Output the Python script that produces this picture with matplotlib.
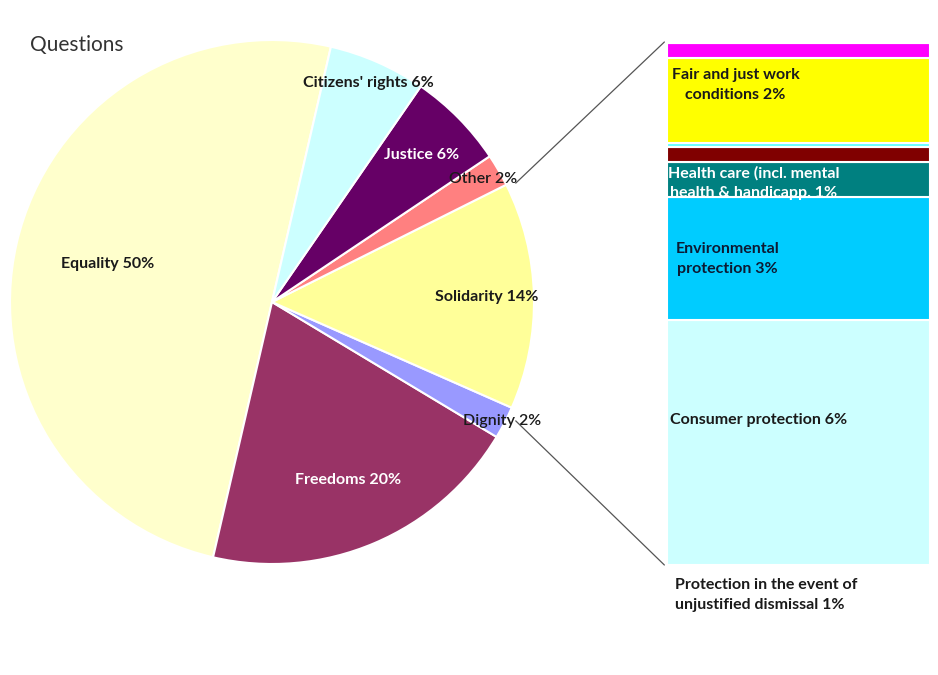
import numpy as np
import matplotlib
matplotlib.use("Agg")
import matplotlib.pyplot as plt
from matplotlib.patches import ConnectionPatch

plt.rcParams['font.family'] = ['Lato', 'DejaVu Sans']

# pie data (percent)
pie_names = ["Equality", "Freedoms", "Dignity", "Solidarity", "Other", "Justice", "Citizens' rights"]
pie_values = [50, 20, 2, 14, 2, 6, 6]
pie_colors = ["#FFFFCC", "#993366", "#9999FF", "#FFFF99", "#FF8080", "#660066", "#CCFFFF"]
pie_text_colors = ["#1a1a1a", "white", "#1a1a1a", "#1a1a1a", "#1a1a1a", "white", "#1a1a1a"]
pie_weights = ["bold", "bold", "semibold", "bold", "semibold", "bold", "bold"]
label_r = [0.645, 0.74, 0.99, 0.82, 0.93, 0.80, 0.915]   # radius of each label

# breakdown of "Other" (bottom to top)
bar_names = ["Consumer protection 6%", "Environmental\nprotection 3%",
             "Health care (incl. mental\nhealth & handicapp. 1%", "", "",
             "Fair and just work\nconditions 2%", "", ""]
bar_values = [6.0, 3.0, 0.87, 0.37, 0.08, 2.1, 0.35, 0.03]
bar_colors = ["#CCFFFF", "#00CCFF", "#008080", "#800000", "#66FFFF", "#FFFF00", "#FF00FF", "#CCCCFF"]
bar_text_colors = ["#1a1a1a", "#0d1a33", "white", "black", "black", "#1a1a1a", "black", "black"]
bar_lab_x = [0.35, 0.23, 0.33, 0, 0, 0.26, 0, 0]
bar_lab_y = [0.59, 0.50, 0.40, 0, 0, 0.68, 0, 0]

W, H = 938, 675
FS = 11.5
fig = plt.figure(figsize=(W / 100, H / 100), dpi=100)

# pie axes
ax = fig.add_axes([10 / W, (H - 564) / H, 524 / W, 524 / H])
wedges, _ = ax.pie(pie_values, colors=pie_colors, startangle=77, counterclock=True,
                   radius=1, wedgeprops=dict(edgecolor="white", linewidth=1.5))
ax.set_xlim(-1, 1)
ax.set_ylim(-1, 1)
ax.set_aspect("equal")
ax.axis("off")

for w, name, val, r, c, fw in zip(wedges, pie_names, pie_values, label_r, pie_text_colors, pie_weights):
    mid = np.deg2rad((w.theta1 + w.theta2) / 2)
    ax.text(r * np.cos(mid), r * np.sin(mid), f"{name} {val}%", ha="center", va="center",
            fontsize=FS, fontweight=fw, color=c)

# bar axes
bx = fig.add_axes([667 / W, (H - 565) / H, 263 / W, 523 / H])
total = sum(bar_values)
bottom = 0
for name, val, col, tc, lx, ly in zip(bar_names, bar_values, bar_colors, bar_text_colors, bar_lab_x, bar_lab_y):
    rect = bx.bar(0, val, bottom=bottom, width=1, align="edge", color=col,
                  edgecolor="white", linewidth=1.5)[0]
    if name:
        t = bx.text(lx, bottom + ly * val, name, ha="center", va="center", fontsize=FS,
                    fontweight="bold", color=tc, linespacing=1.55)
        t.set_clip_path(rect)
    bottom += val
bx.set_xlim(0, 1)
bx.set_ylim(0, total)
bx.axis("off")

bx.text(0.03, -0.025, "Protection in the event of\nunjustified dismissal 1%",
        transform=bx.transAxes, ha="left", va="top", fontsize=FS, fontweight="bold",
        color="#1a1a1a", linespacing=1.55)

# connector lines
for ang, yb in [(26, total), (-26, 0)]:
    a = np.deg2rad(ang)
    con = ConnectionPatch(xyA=(1.035 * np.cos(a), 1.035 * np.sin(a)), coordsA=ax.transData,
                          xyB=(-0.01, yb), coordsB=bx.transData, color="#555555", linewidth=0.9)
    fig.add_artist(con)

fig.text(30 / W, 1 - 45 / H, "Questions", ha="left", va="center", fontsize=15, color="#333333")

fig.savefig("out.png", dpi=100, facecolor="white")
